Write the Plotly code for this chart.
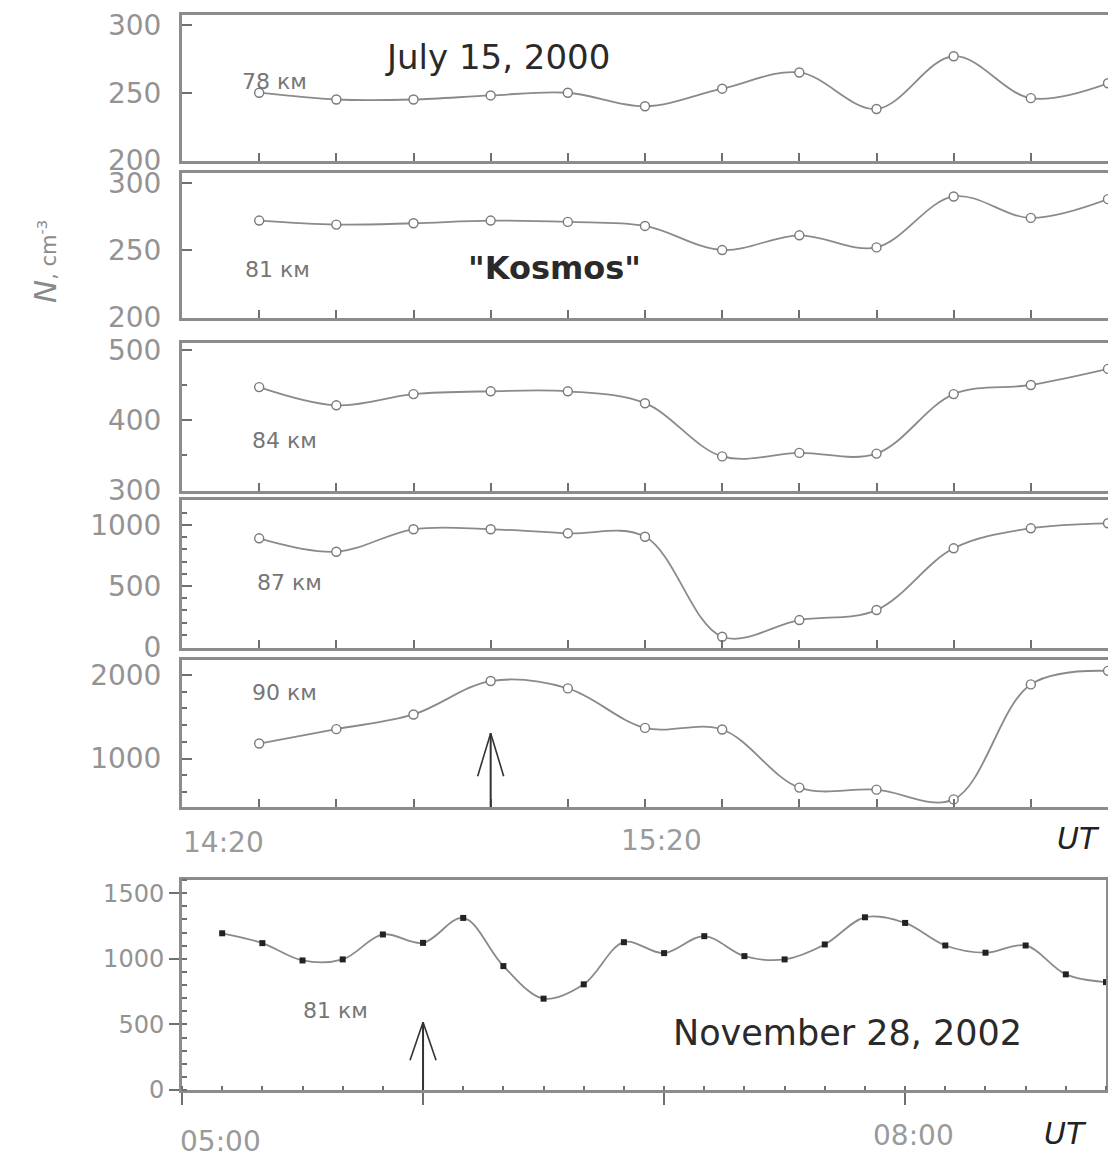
import plotly.graph_objects as go

W, H = 1108, 1158

# ---------------- data ----------------
times_2000 = ["2000-07-15 14:20", "2000-07-15 14:32", "2000-07-15 14:44", "2000-07-15 14:56",
              "2000-07-15 15:08", "2000-07-15 15:20", "2000-07-15 15:32", "2000-07-15 15:44",
              "2000-07-15 15:56", "2000-07-15 16:08", "2000-07-15 16:20", "2000-07-15 16:32"]
n_78km = [250, 245, 245, 248, 250, 240, 253, 265, 238, 277, 246, 257]
n_81km = [272, 269, 270, 272, 271, 268, 250, 261, 252, 290, 274, 288]
n_84km = [447, 421, 437, 441, 441, 424, 348, 353, 352, 437, 450, 473]
n_87km = [891, 781, 965, 965, 932, 904, 84, 221, 303, 809, 973, 1014]
n_90km = [1180, 1352, 1528, 1928, 1840, 1367, 1348, 652, 628, 511, 1888, 2050]

times_2002 = ["2002-11-28 05:10", "2002-11-28 05:20", "2002-11-28 05:30", "2002-11-28 05:40",
              "2002-11-28 05:50", "2002-11-28 06:00", "2002-11-28 06:10", "2002-11-28 06:20",
              "2002-11-28 06:30", "2002-11-28 06:40", "2002-11-28 06:50", "2002-11-28 07:00",
              "2002-11-28 07:10", "2002-11-28 07:20", "2002-11-28 07:30", "2002-11-28 07:40",
              "2002-11-28 07:50", "2002-11-28 08:00", "2002-11-28 08:10", "2002-11-28 08:20",
              "2002-11-28 08:30", "2002-11-28 08:40", "2002-11-28 08:50"]
n_81km_2002 = [1194, 1119, 987, 995, 1185, 1121, 1311, 944, 696, 805, 1126, 1043,
               1172, 1020, 995, 1109, 1316, 1273, 1101, 1046, 1101, 881, 822]

panel_labels = ["78 км", "81 км", "84 км", "87 км", "90 км"]
panel_ticks = [[200, 250, 300], [200, 250, 300], [300, 400, 500], [0, 500, 1000], [1000, 2000]]
panel_ranges = [[199.5, 307.5], [199.3, 307.5], [298.6, 510], [-8, 1205], [420, 2180]]
panel_minor = [None, None, 50, 100, 200]
top_series = [n_78km, n_81km, n_84km, n_87km, n_90km]
bottom_ticks = [0, 500, 1000, 1500]

# ---------------- style ----------------
FONT = "DejaVu Sans"
AX = "#8c8c8c"
TICKC = "#939393"
LINEC = "#8a8a8a"

def py(ypx):
    return 1 - ypx / H

def px(xpx):
    return xpx / W

# panel pixel extents (top, bottom)
panel_px = [(15, 161), (173, 318), (343, 491), (500, 648), (660, 807)]
xdom_top = [px(182), 1.0]

fig = go.Figure()
layout = dict(width=W, height=H, margin=dict(l=0, r=0, t=0, b=0, autoexpand=False),
              paper_bgcolor="white", plot_bgcolor="white", showlegend=False,
              font=dict(family=FONT, color=TICKC))

for i, (vals, (t, b)) in enumerate(zip(top_series, panel_px)):
    k = i + 1
    xa = "x" if k == 1 else f"x{k}"
    ya = "y" if k == 1 else f"y{k}"
    fig.add_trace(go.Scatter(
        x=times_2000, y=vals, xaxis=xa, yaxis=ya, mode="lines+markers",
        line=dict(color=LINEC, width=1.8, shape="spline", smoothing=1.0),
        marker=dict(symbol="circle", size=9, color="white", line=dict(color="#7a7a7a", width=1.4)),
        hoverinfo="skip"))
    xkey = "xaxis" if k == 1 else f"xaxis{k}"
    ykey = "yaxis" if k == 1 else f"yaxis{k}"
    layout[xkey] = dict(
        type="date", domain=xdom_top, anchor=ya, automargin=False,
        range=["2000-07-15 14:08", "2000-07-15 16:32"],
        showline=True, linecolor=AX, linewidth=3, mirror=True,
        ticks="inside", ticklen=8, tickwidth=2, tickcolor="#707070",
        tick0="2000-07-15 14:20", dtick=12 * 60 * 1000,
        showticklabels=False, showgrid=False, zeroline=False)
    ydef = dict(
        domain=[py(b), py(t)], anchor=xa, range=panel_ranges[i], automargin=False,
        showline=True, linecolor=AX, linewidth=3, mirror=False,
        ticks="inside", ticklen=10, tickwidth=2, tickcolor="#707070",
        tickmode="array", tickvals=panel_ticks[i],
        tickfont=dict(size=28, color=TICKC, family=FONT),
        ticklabelstandoff=12,
        showgrid=False, zeroline=False)
    if panel_minor[i]:
        ydef["minor"] = dict(dtick=panel_minor[i], ticks="inside", ticklen=5,
                             tickwidth=1.5, tickcolor="#707070", showgrid=False)
    layout[ykey] = ydef

# bottom panel
fig.add_trace(go.Scatter(
    x=times_2002, y=n_81km_2002, xaxis="x6", yaxis="y6", mode="lines+markers",
    line=dict(color=LINEC, width=1.8, shape="spline", smoothing=1.0),
    marker=dict(symbol="square", size=6, color="#222222"),
    hoverinfo="skip"))
layout["xaxis6"] = dict(
    type="date", domain=[px(182), px(1106)], anchor="y6", automargin=False,
    range=["2002-11-28 05:00", "2002-11-28 08:50"],
    showline=True, linecolor=AX, linewidth=3, mirror=True,
    ticks="outside", ticklen=12, tickwidth=2, tickcolor="#707070",
    tick0="2002-11-28 05:00", dtick=60 * 60 * 1000,
    minor=dict(dtick=10 * 60 * 1000, ticks="inside", ticklen=4, tickwidth=1.5, tickcolor="#707070"),
    showticklabels=False, showgrid=False, zeroline=False)
layout["yaxis6"] = dict(
    domain=[py(1090), py(880)], anchor="x6", range=[0, 1600], automargin=False,
    showline=True, linecolor=AX, linewidth=3, mirror=True,
    ticks="outside", ticklen=10, tickwidth=2, tickcolor="#707070",
    tickmode="array", tickvals=bottom_ticks,
    tickfont=dict(size=24, color=TICKC, family=FONT),
    minor=dict(dtick=100, ticks="inside", ticklen=5, tickwidth=1.5, tickcolor="#707070"),
    showgrid=False, zeroline=False)

# ---------------- arrows (open V heads) ----------------
def arrow(xr, yr, t, y_base, y_tip, head_len, head_half):
    shp = [dict(type="line", xref=xr, yref=yr, x0=t, x1=t, y0=y_base, y1=y_tip,
                line=dict(color="#333333", width=2))]
    for s in (-1, 1):
        shp.append(dict(type="line", xref=xr, yref=yr,
                        xsizemode="pixel", xanchor=t, x0=s * head_half, x1=0,
                        ysizemode="pixel", yanchor=y_tip, y0=-head_len, y1=0,
                        line=dict(color="#333333", width=1.6)))
    return shp

shapes = []
shapes += arrow("x5", "y5", "2000-07-15 14:56", 420, 1304, 43, 13)
shapes += arrow("x6", "y6", "2002-11-28 06:00", 0, 516, 38, 13)
layout["shapes"] = shapes

# ---------------- text ----------------
ann = []
def text(xpx_, ypx_, s, size, color, **kw):
    ann.append(dict(x=px(xpx_), y=py(ypx_), xref="paper", yref="paper", text=s,
                    showarrow=False, xanchor="center", yanchor="middle",
                    font=dict(size=size, color=color, family=FONT), **kw))

text(497, 57, "July 15, 2000", 34, "#2a2a2a")
text(554, 268, "<b>\"Kosmos\"</b>", 32, "#2a2a2a")
label_pos = [(274, 81), (277, 270), (284, 440), (289, 582), (284, 692)]
for (lx, ly), lab in zip(label_pos, panel_labels):
    text(lx, ly, lab, 22, "#767676")
text(335, 1010, "81 км", 22, "#767676")
text(847, 1033, "November 28, 2002", 35, "#2a2a2a")
text(224, 842, "14:20", 28, "#9a9a9a")
text(661, 840, "15:20", 28, "#9a9a9a")
text(1078, 838, "<i>UT</i>", 30, "#222222")
text(220, 1141, "05:00", 28, "#9a9a9a")
text(913, 1135, "08:00", 28, "#9a9a9a")
text(1065, 1133, "<i>UT</i>", 30, "#222222")
text(45, 262, "<i>N</i><span style='font-size:21px'>, cm<sup>-3</sup></span>", 31, "#8a8a8a",
     textangle=-90)
layout["annotations"] = ann

fig.update_layout(**layout)
fig.write_html("out.html", config={"displayModeBar": False},
               post_script="document.body.style.margin='0';document.body.style.overflow='hidden';")
